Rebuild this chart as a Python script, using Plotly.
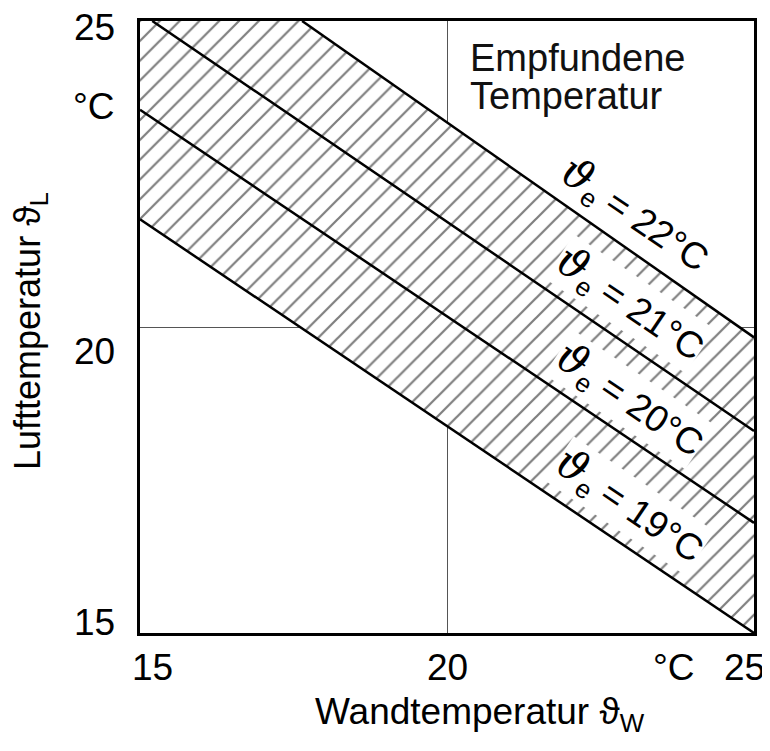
import plotly.graph_objects as go

# ---- data ----
theta_e = [19, 20, 21, 22]
line_x_start = [15.0, 15.0, 15.2, 17.64]
line_y_start = [21.76, 23.55, 25.0, 25.0]
line_x_end = [25.0, 25.0, 25.0, 25.0]
line_y_end = [15.0, 16.80, 18.30, 19.83]

x_ticks = [15, 20, 25]
y_ticks = [15, 20, 25]
x_range = [15, 25]
y_range = [15, 25]

FONT = "Liberation Sans, Arial, sans-serif"
THETA = '<span style="font-family:DejaVu Serif;font-style:italic;font-size:42px">ϑ</span>'

fig = go.Figure()

# hatched band between the 19 °C and the 22 °C line (clipped to the frame)
poly_x = [line_x_start[0], x_range[0], line_x_start[-1], line_x_end[-1], line_x_end[0], line_x_start[0]]
poly_y = [line_y_start[0], y_range[1], line_y_start[-1], line_y_end[-1], line_y_end[0], line_y_start[0]]
fig.add_trace(go.Scatter(
    x=poly_x, y=poly_y, mode="lines", fill="toself",
    line=dict(width=0, color="rgba(0,0,0,0)"),
    fillcolor="white",
    fillpattern=dict(shape="/", size=14, solidity=0.16, fgcolor="#000000", bgcolor="white"),
    hoverinfo="skip", showlegend=False,
))

for i, te in enumerate(theta_e):
    fig.add_trace(go.Scatter(
        x=[line_x_start[i], line_x_end[i]], y=[line_y_start[i], line_y_end[i]],
        mode="lines", line=dict(color="black", width=2.5),
        name=f"ϑe = {te}°C", showlegend=False,
    ))

ann = []
# line labels (along the lines)
label_pos = [(22.98, 17.08), (22.98, 18.81), (22.98, 20.37), (23.06, 21.83)]
for te, (lx, ly) in zip(theta_e, label_pos):
    ann.append(dict(x=lx, y=ly, xref="x", yref="y", text=f"{THETA}<sub>e</sub> = {te}°C",
                    showarrow=False, textangle=34, bgcolor="white", borderpad=0,
                    font=dict(family=FONT, size=37, color="black")))

# inner caption
ann.append(dict(x=0.535, y=0.940, xref="paper", yref="paper", text="Empfundene",
                showarrow=False, xanchor="left", yanchor="middle",
                font=dict(family=FONT, size=38, color="#111")))
ann.append(dict(x=0.535, y=0.878, xref="paper", yref="paper", text="Temperatur",
                showarrow=False, xanchor="left", yanchor="middle",
                font=dict(family=FONT, size=38, color="#111")))

# x tick labels
x_shift = {15: 12, 20: 0, 25: -10}
for v in x_ticks:
    ann.append(dict(x=v, y=-0.057, xref="x", yref="paper", text=str(v), showarrow=False,
                    xanchor="center", yanchor="middle", xshift=x_shift[v],
                    font=dict(family=FONT, size=37, color="black")))
ann.append(dict(x=23.7, y=-0.057, xref="x", yref="paper", text="°C", showarrow=False,
                xanchor="center", yanchor="middle",
                font=dict(family=FONT, size=37, color="black")))
# y tick labels
y_shift = {15: 11, 20: -24, 25: -6}
for v in y_ticks:
    ann.append(dict(x=-0.0375, y=v, xref="paper", yref="y", text=str(v), showarrow=False,
                    xanchor="right", yanchor="middle", yshift=y_shift[v],
                    font=dict(family=FONT, size=37, color="black")))
ann.append(dict(x=-0.0375, y=0.860, xref="paper", yref="paper", text="°C", showarrow=False,
                xanchor="right", yanchor="middle",
                font=dict(family=FONT, size=37, color="black")))

# axis titles
ann.append(dict(x=0.554, y=-0.133, xref="paper", yref="paper",
                text="Wandtemperatur ϑ<sub>W</sub>", showarrow=False,
                xanchor="center", yanchor="middle",
                font=dict(family=FONT, size=37, color="black")))
ann.append(dict(x=-0.178, y=0.493, xref="paper", yref="paper",
                text="Lufttemperatur ϑ<sub>L</sub>", showarrow=False, textangle=-90,
                xanchor="center", yanchor="middle",
                font=dict(family=FONT, size=36, color="black")))

# the page body has an 8 px margin, so the figure is 8 px smaller than the window
fig.update_layout(
    width=762, height=743,
    margin=dict(l=132, r=16, t=10, b=118),
    paper_bgcolor="white", plot_bgcolor="white",
    annotations=ann, showlegend=False,
)
fig.update_xaxes(range=x_range, tickvals=[20], showticklabels=False, ticks="",
                 showgrid=True, gridcolor="#555", gridwidth=1, zeroline=False,
                 showline=True, mirror=True, linecolor="black", linewidth=3)
fig.update_yaxes(range=y_range, tickvals=[20], showticklabels=False, ticks="",
                 showgrid=True, gridcolor="#555", gridwidth=1, zeroline=False,
                 showline=True, mirror=True, linecolor="black", linewidth=3)

fig.write_html("out.html")
